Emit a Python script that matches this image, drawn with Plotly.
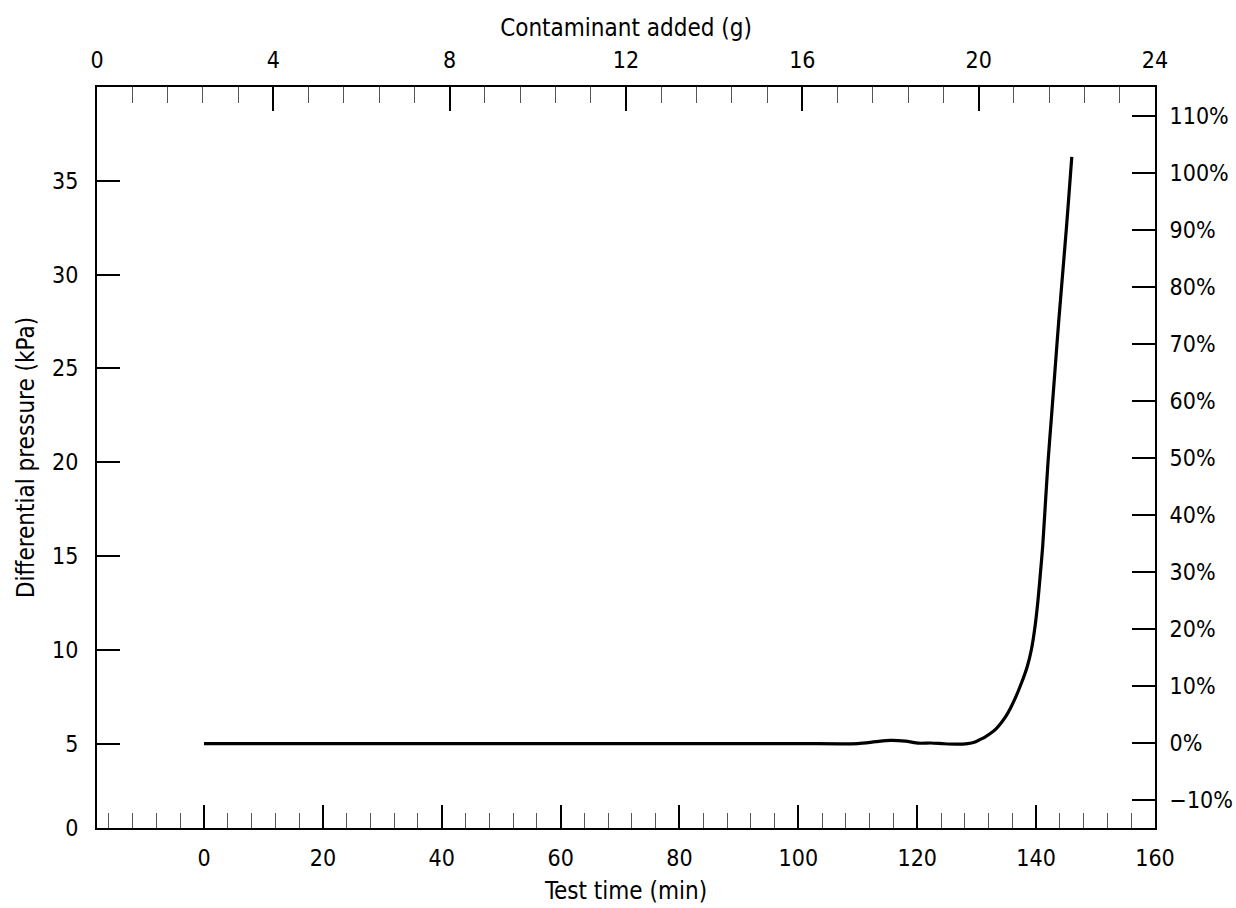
import plotly.graph_objects as go

# Data
test_time_min = [0, 20, 40, 60, 80, 100, 110, 113, 115.5, 118, 120.3, 122.3, 124.5, 126.5, 128.5, 129.6, 130.4,
                 131.4, 132.4, 133.3, 134.1, 134.9, 135.7, 136.6, 137.5, 138.5, 139.2, 139.8, 140.3, 140.7,
                 141.1, 141.5, 142.0, 142.6, 143.2, 143.8, 144.45, 145.1, 145.7, 146.0]
diff_pressure_kpa = [5.0, 5.0, 5.0, 5.0, 5.0, 5.0, 5.0, 5.1, 5.17, 5.13, 5.02, 5.03, 4.99, 4.97, 5.0, 5.07, 5.19,
                     5.35, 5.56, 5.8, 6.1, 6.45, 6.9, 7.5, 8.2, 9.1, 10.0, 11.2, 12.6, 14.0,
                     15.5, 17.5, 20.0, 22.5, 25.0, 27.5, 30.0, 32.5, 35.0, 36.27]

x_range = [-18, 160]
top_range = [0, 24]
y_range = [0.5, 40]
pct_range = [-15, 115]

x_ticks = [0, 20, 40, 60, 80, 100, 120, 140, 160]
top_ticks = [0, 4, 8, 12, 16, 20, 24]
y_tickvals = [0.5, 5, 10, 15, 20, 25, 30, 35]
y_ticktext = ["0", "5", "10", "15", "20", "25", "30", "35"]
pct_ticks = [-10, 0, 10, 20, 30, 40, 50, 60, 70, 80, 90, 100, 110]
pct_text = ["\u221210%"] + [f"{v}%" for v in pct_ticks[1:]]

FONT = "DejaVu Sans Condensed, Liberation Sans Narrow, DejaVu Sans, sans-serif"
fnt = dict(family=FONT, size=23, color="black")
tfnt = dict(family=FONT, size=24, color="black")

fig = go.Figure()
fig.add_trace(go.Scatter(x=test_time_min, y=diff_pressure_kpa, mode="lines",
                         line=dict(color="black", width=3.2, shape="spline", smoothing=0.7),
                         showlegend=False, hoverinfo="skip"))
fig.add_trace(go.Scatter(x=top_range, y=pct_range, xaxis="x2", yaxis="y2", mode="markers",
                         marker=dict(opacity=0), showlegend=False, hoverinfo="skip"))

common = dict(showline=True, linecolor="black", linewidth=2, showgrid=False, zeroline=False,
              ticks="inside", tickcolor="black", tickwidth=1.6, tickfont=fnt, mirror=False,
              automargin=False)

fig.update_layout(
    width=1236, height=908,
    margin=dict(l=97, r=81, t=87, b=80),
    paper_bgcolor="white", plot_bgcolor="white",
    font=fnt,
    xaxis=dict(range=x_range, tickvals=x_ticks, ticklen=23, ticklabelstandoff=8,
               title=dict(text="Test time (min)", font=tfnt, standoff=13),
               minor=dict(dtick=4, tick0=0, ticks="inside", ticklen=15, tickcolor="#555", tickwidth=1.2),
               **common),
    xaxis2=dict(range=top_range, tickvals=top_ticks, ticklen=24, side="top", overlaying="x",
                anchor="y", ticklabelstandoff=8,
                title=dict(text="Contaminant added (g)", font=tfnt, standoff=3),
                minor=dict(dtick=0.8, tick0=0, ticks="inside", ticklen=16, tickcolor="#555", tickwidth=1.2),
                **common),
    yaxis=dict(range=y_range, tickvals=y_tickvals, ticktext=y_ticktext, ticklen=23,
               ticklabelstandoff=12,
               title=dict(text="Differential pressure (kPa)", font=tfnt, standoff=11),
               **common),
    yaxis2=dict(range=pct_range, tickvals=pct_ticks, ticktext=pct_text, ticklen=23, side="right",
                overlaying="y", anchor="x", ticklabelstandoff=8, **common),
)

fig.write_html("out.html")
